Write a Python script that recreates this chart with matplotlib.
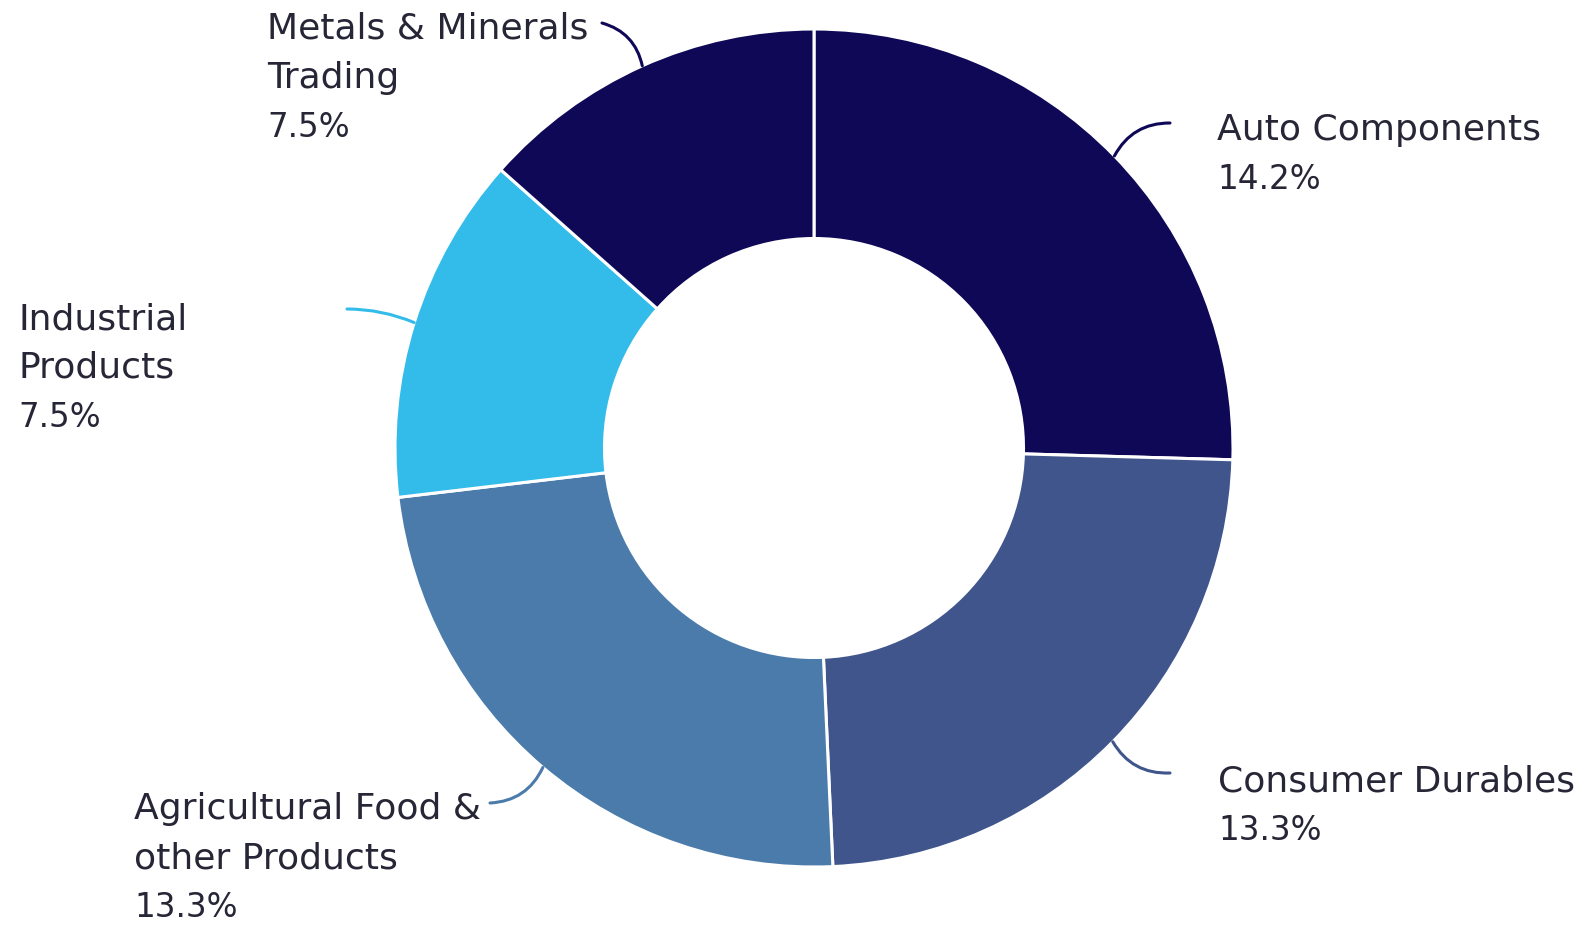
import numpy as np
import matplotlib
matplotlib.use("Agg")
import matplotlib.pyplot as plt

# Sector allocation (% of portfolio)
categories = ["Auto Components", "Consumer Durables", "Agricultural Food &\nother Products",
              "Industrial\nProducts", "Metals & Minerals\nTrading"]
values = [14.2, 13.3, 13.3, 7.5, 7.5]
colors = ["#0e0856", "#3f558c", "#4a7bab", "#33bce9", "#0e0856"]

W, H = 1595, 930
fig = plt.figure(figsize=(W / 100, H / 100), dpi=100)
ax = fig.add_axes([0, 0, 1, 1])

cx, cy, R = 814, H - 448, 419
wedges, _ = ax.pie(values, colors=colors, startangle=90, counterclock=False,
                   center=(cx, cy), radius=R,
                   wedgeprops=dict(width=R * 0.5, edgecolor="white", linewidth=2.2))
ax.set_xlim(0, W)
ax.set_ylim(0, H)
ax.set_aspect("equal")
ax.axis("off")

# label anchor (left x, first baseline y from top) and connector end point near the text
label_pos = [(1217, 140), (1218, 791), (134, 819), (18, 329), (267, 39)]
conn_end = [(1170, 123), (1170, 773), (490, 803), (347, 309), (602, 23)]
conn_rad = [0.3, -0.3, 0.3, -0.1, -0.3]
line_gap = 49
text_color = "#262636"

for w, name, val, (lx, ly), (ex, ey), rad, col in zip(
        wedges, categories, values, label_pos, conn_end, conn_rad, colors):
    mid = np.deg2rad((w.theta1 + w.theta2) / 2)
    px, py = cx + R * np.cos(mid), cy + R * np.sin(mid)
    ax.annotate("", xy=(px, py), xytext=(ex, H - ey),
                arrowprops=dict(arrowstyle="-", color=col, lw=2.2,
                                shrinkA=0, shrinkB=0,
                                connectionstyle=f"arc3,rad={rad}"))
    lines = name.split("\n")
    for i, t in enumerate(lines):
        ax.text(lx, H - (ly + i * line_gap), t, ha="left", va="baseline",
                fontsize=26, color=text_color, family="DejaVu Sans")
    ax.text(lx, H - (ly + len(lines) * line_gap), f"{val}%", ha="left",
            va="baseline", fontsize=23.5, color=text_color, family="DejaVu Sans")

fig.savefig("out.png", dpi=100, facecolor="white")
